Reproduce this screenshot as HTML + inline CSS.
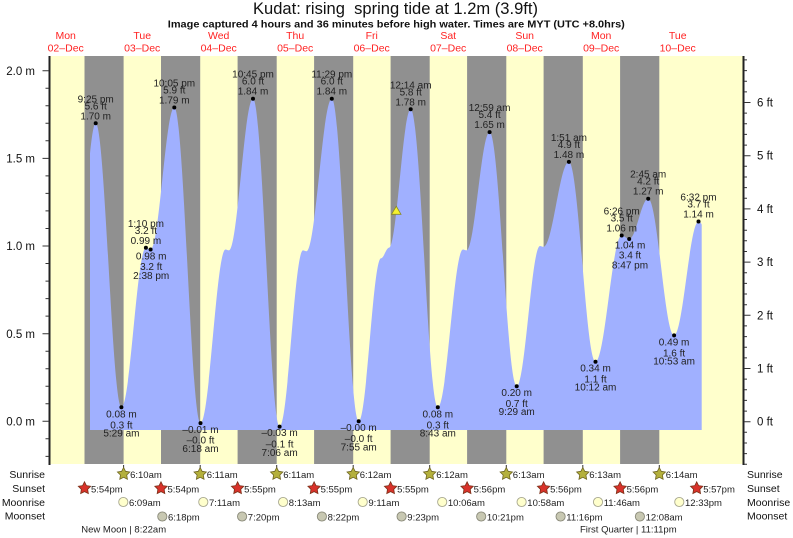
<!DOCTYPE html>
<html><head><meta charset="utf-8"><style>
html,body{margin:0;padding:0;background:#fff;}
svg{display:block;}
text{font-family:"Liberation Sans",Arial,sans-serif;}
.t{font-size:10px;fill:#222;text-anchor:middle;}
.d{font-size:10.5px;fill:#f22;text-anchor:middle;}
.ax{font-size:11.5px;fill:#111;}
.rl{font-size:10.5px;fill:#111;}
.ic{font-size:9.5px;fill:#222;}
</style></head><body>
<svg width="793" height="538" viewBox="0 0 793 538" xmlns="http://www.w3.org/2000/svg">
<defs><clipPath id="cp"><rect x="90" y="0" width="611.7" height="440"/></clipPath></defs>
<!-- Title -->
<text x="395.5" y="14" font-size="16.5" fill="#111" text-anchor="middle" textLength="285" lengthAdjust="spacingAndGlyphs" style="white-space:pre">Kudat: rising  spring tide at 1.2m (3.9ft)</text>
<text x="396.3" y="27.3" font-size="10" font-weight="bold" fill="#111" text-anchor="middle" textLength="457" lengthAdjust="spacingAndGlyphs">Image captured 4 hours and 36 minutes before high water. Times are MYT (UTC +8.0hrs)</text>
<!-- Day labels -->
<g class="d">
<text x="65.7" y="39">Mon</text><text x="65.7" y="51.5">02–Dec</text>
<text x="142.2" y="39">Tue</text><text x="142.2" y="51.5">03–Dec</text>
<text x="218.7" y="39">Wed</text><text x="218.7" y="51.5">04–Dec</text>
<text x="295.2" y="39">Thu</text><text x="295.2" y="51.5">05–Dec</text>
<text x="371.7" y="39">Fri</text><text x="371.7" y="51.5">06–Dec</text>
<text x="448.2" y="39">Sat</text><text x="448.2" y="51.5">07–Dec</text>
<text x="524.7" y="39">Sun</text><text x="524.7" y="51.5">08–Dec</text>
<text x="601.2" y="39">Mon</text><text x="601.2" y="51.5">09–Dec</text>
<text x="677.7" y="39">Tue</text><text x="677.7" y="51.5">10–Dec</text>
</g>
<!-- Background stripes -->
<rect x="49" y="56" width="694" height="408" fill="#ffffcc"/>
<g fill="#909090">
<rect x="84.5" y="56" width="39.1" height="408"/>
<rect x="161" y="56" width="39.2" height="408"/>
<rect x="237.6" y="56" width="39.1" height="408"/>
<rect x="314.1" y="56" width="39.1" height="408"/>
<rect x="390.6" y="56" width="39.1" height="408"/>
<rect x="467.1" y="56" width="39.2" height="408"/>
<rect x="543.6" y="56" width="39.2" height="408"/>
<rect x="620.1" y="56" width="39.2" height="408"/>
</g>
<!-- Tide fill -->
<path clip-path="url(#cp)" fill="#a0b0ff" d="M78,251.3
C84.44,251.3 89.26,123.3 95.7,123.3
C105.05,123.3 112.05,407.3 121.4,407.3
C130.32,407.3 136.98,247.8 145.9,247.8
C147.61,247.8 148.89,249.5 150.6,249.5
C159.23,249.5 165.67,107.5 174.3,107.5
C183.84,107.5 190.96,423.1 200.5,423.1
C209.6,423.1 216.4,249.5 225.5,249.5
C226.77,249.5 227.73,250.4 229,250.4
C237.74,250.4 244.26,98.7 253,98.7
C262.68,98.7 269.92,426.6 279.6,426.6
C288.12,426.6 294.48,250.4 303,250.4
C304.27,250.4 305.23,251.3 306.5,251.3
C315.71,251.3 322.59,98.7 331.8,98.7
C341.59,98.7 348.91,421.3 358.7,421.3
C366.82,421.3 372.88,258.3 381,258.3
C383.91,258.3 386.09,247.8 389,247.8
C396.9,247.8 402.8,109.3 410.7,109.3
C420.56,109.3 427.94,407.3 437.8,407.3
C446.97,407.3 453.83,249.5 463,249.5
C464.27,249.5 465.23,250.4 466.5,250.4
C474.91,250.4 481.19,132.1 489.6,132.1
C499.46,132.1 506.84,386.2 516.7,386.2
C525.18,386.2 531.52,246 540,246
C541.27,246 542.23,246.9 543.5,246.9
C552.75,246.9 559.65,161.9 568.9,161.9
C578.58,161.9 585.82,361.7 595.5,361.7
C605.04,361.7 612.16,235.5 621.7,235.5
C624.43,235.5 626.47,239 629.2,239
C636.12,239 641.28,198.7 648.2,198.7
C657.63,198.7 664.67,335.4 674.1,335.4
C682.98,335.4 689.62,221.5 698.5,221.5
C709.97,221.5 718.53,333.6 730,333.6
L730,430 L78,430 Z"/>
<!-- Current marker -->
<polygon points="396.3,206.3 391.5,214.3 401,214.3" fill="#f4f030" stroke="#8a8a20" stroke-width="0.8"/>
<!-- Dots -->
<g fill="#000">
<circle cx="95.7" cy="123.3" r="2"/><circle cx="174.3" cy="107.5" r="2"/><circle cx="253" cy="98.7" r="2"/>
<circle cx="331.8" cy="98.7" r="2"/><circle cx="410.7" cy="109.3" r="2"/><circle cx="489.6" cy="132.1" r="2"/>
<circle cx="568.9" cy="161.9" r="2"/><circle cx="648.2" cy="198.7" r="2"/><circle cx="698.5" cy="221.5" r="2"/>
<circle cx="145.9" cy="247.8" r="2"/><circle cx="621.7" cy="235.5" r="2"/>
<circle cx="121.4" cy="407.3" r="2"/><circle cx="200.5" cy="423.1" r="2"/><circle cx="279.6" cy="426.6" r="2"/>
<circle cx="358.7" cy="421.3" r="2"/><circle cx="437.8" cy="407.3" r="2"/><circle cx="516.7" cy="386.2" r="2"/>
<circle cx="595.5" cy="361.7" r="2"/><circle cx="674.1" cy="335.4" r="2"/><circle cx="150.6" cy="249.5" r="2"/>
<circle cx="629.2" cy="239" r="2"/>
</g>
<!-- High labels -->
<g class="t">
<text x="95.7" y="102.3">9:25 pm</text><text x="95.7" y="109.3">5.6 ft</text><text x="95.7" y="119.3">1.70 m</text>
<text x="174.3" y="86.5">10:05 pm</text><text x="174.3" y="93.5">5.9 ft</text><text x="174.3" y="103.5">1.79 m</text>
<text x="253" y="77.7">10:45 pm</text><text x="253" y="84.7">6.0 ft</text><text x="253" y="94.7">1.84 m</text>
<text x="331.8" y="77.7">11:29 pm</text><text x="331.8" y="84.7">6.0 ft</text><text x="331.8" y="94.7">1.84 m</text>
<text x="410.7" y="88.3">12:14 am</text><text x="410.7" y="95.3">5.8 ft</text><text x="410.7" y="105.3">1.78 m</text>
<text x="489.6" y="111.1">12:59 am</text><text x="489.6" y="118.1">5.4 ft</text><text x="489.6" y="128.1">1.65 m</text>
<text x="568.9" y="140.9">1:51 am</text><text x="568.9" y="147.9">4.9 ft</text><text x="568.9" y="157.9">1.48 m</text>
<text x="648.2" y="177.7">2:45 am</text><text x="648.2" y="184.7">4.2 ft</text><text x="648.2" y="194.7">1.27 m</text>
<text x="698.5" y="200.5">6:32 pm</text><text x="698.5" y="207.5">3.7 ft</text><text x="698.5" y="217.5">1.14 m</text>
<text x="145.9" y="226.8">1:10 pm</text><text x="145.9" y="233.8">3.2 ft</text><text x="145.9" y="243.8">0.99 m</text>
<text x="621.7" y="214.5">6:26 pm</text><text x="621.7" y="221.5">3.5 ft</text><text x="621.7" y="231.5">1.06 m</text>
<!-- Low labels -->
<text x="121.4" y="417.3">0.08 m</text><text x="121.4" y="428.3">0.3 ft</text><text x="121.4" y="436.3">5:29 am</text>
<text x="200.5" y="433.1">–0.01 m</text><text x="200.5" y="443.6">–0.0 ft</text><text x="200.5" y="452.1">6:18 am</text>
<text x="279.6" y="436.1">–0.03 m</text><text x="279.6" y="447.6">–0.1 ft</text><text x="279.6" y="456">7:06 am</text>
<text x="358.7" y="431">–0.00 m</text><text x="358.7" y="441.8">–0.0 ft</text><text x="358.7" y="450.3">7:55 am</text>
<text x="437.8" y="417.3">0.08 m</text><text x="437.8" y="428.3">0.3 ft</text><text x="437.8" y="436.3">8:43 am</text>
<text x="516.7" y="396.2">0.20 m</text><text x="516.7" y="407.2">0.7 ft</text><text x="516.7" y="415.2">9:29 am</text>
<text x="595.5" y="371.7">0.34 m</text><text x="595.5" y="382.7">1.1 ft</text><text x="595.5" y="390.7">10:12 am</text>
<text x="674.1" y="345.4">0.49 m</text><text x="674.1" y="356.4">1.6 ft</text><text x="674.1" y="364.4">10:53 am</text>
<text x="151.2" y="259.3">0.98 m</text><text x="151.2" y="270">3.2 ft</text><text x="151.2" y="279">2:38 pm</text>
<text x="630" y="248.5">1.04 m</text><text x="630" y="258.5">3.4 ft</text><text x="630" y="268.3">8:47 pm</text>
</g>
<!-- Axes -->
<line x1="49.5" y1="56" x2="49.5" y2="465" stroke="#222" stroke-width="2"/>
<line x1="743.5" y1="56" x2="743.5" y2="465" stroke="#222" stroke-width="2"/>
<path stroke="#333" stroke-width="1" fill="none" d="
M45.5,456.4H49 M45.5,438.8H49 M42.5,421.3H49 M45.5,403.8H49 M45.5,386.2H49 M45.5,368.7H49 M45.5,351.2H49
M42.5,333.7H49 M45.5,316.1H49 M45.5,298.6H49 M45.5,281.1H49 M45.5,263.5H49 M42.5,246H49 M45.5,228.5H49
M45.5,210.9H49 M45.5,193.4H49 M45.5,175.9H49 M42.5,158.4H49 M45.5,140.8H49 M45.5,123.3H49 M45.5,105.8H49
M45.5,88.2H49 M42.5,70.7H49
M744,464.3H747 M744,453.6H747 M744,443H747 M744,432.3H747 M744,421.7H750.5 M744,411.1H747 M744,400.4H747
M744,389.8H747 M744,379.1H747 M744,368.5H750.5 M744,357.9H747 M744,347.2H747 M744,336.6H747 M744,325.9H747
M744,315.3H750.5 M744,304.7H747 M744,294H747 M744,283.4H747 M744,272.7H747 M744,262.1H750.5 M744,251.5H747
M744,240.8H747 M744,230.2H747 M744,219.5H747 M744,208.9H750.5 M744,198.3H747 M744,187.6H747 M744,177H747
M744,166.3H747 M744,155.7H750.5 M744,145.1H747 M744,134.4H747 M744,123.8H747 M744,113.1H747 M744,102.5H750.5
M744,91.9H747 M744,81.2H747 M744,70.6H747 M744,59.9H747
M123.6,465V469 M200.2,465V469 M276.7,465V469 M353.2,465V469 M429.7,465V469 M506.3,465V469 M582.8,465V469 M659.3,465V469"/>
<g class="ax" text-anchor="end">
<text x="35" y="74.9">2.0 m</text><text x="35" y="162.6">1.5 m</text><text x="35" y="250.2">1.0 m</text>
<text x="35" y="337.9">0.5 m</text><text x="35" y="425.5">0.0 m</text>
</g>
<g class="ax">
<text x="757" y="106.5">6 ft</text><text x="757" y="159.7">5 ft</text><text x="757" y="212.9">4 ft</text>
<text x="757" y="266.1">3 ft</text><text x="757" y="319.3">2 ft</text><text x="757" y="372.5">1 ft</text><text x="757" y="425.7">0 ft</text>
</g>
<!-- Row labels -->
<g class="rl" text-anchor="end">
<text x="45" y="478">Sunrise</text><text x="45" y="492">Sunset</text><text x="45" y="506">Moonrise</text><text x="45" y="519.5">Moonset</text>
</g>
<g class="rl">
<text x="747" y="478">Sunrise</text><text x="747" y="492">Sunset</text><text x="747" y="506">Moonrise</text><text x="747" y="519.5">Moonset</text>
</g>
<!-- Sunrise stars -->
<g fill="#b4b03c" stroke="#6e6420" stroke-width="0.8">
<path transform="translate(123.6,474)" d="M0,-6.5 L1.94,-2.67 L6.18,-2.01 L3.14,1.02 L3.82,5.26 L0,3.3 L-3.82,5.26 L-3.14,1.02 L-6.18,-2.01 L-1.94,-2.67 Z"/>
<path transform="translate(200.2,474)" d="M0,-6.5 L1.94,-2.67 L6.18,-2.01 L3.14,1.02 L3.82,5.26 L0,3.3 L-3.82,5.26 L-3.14,1.02 L-6.18,-2.01 L-1.94,-2.67 Z"/>
<path transform="translate(276.7,474)" d="M0,-6.5 L1.94,-2.67 L6.18,-2.01 L3.14,1.02 L3.82,5.26 L0,3.3 L-3.82,5.26 L-3.14,1.02 L-6.18,-2.01 L-1.94,-2.67 Z"/>
<path transform="translate(353.2,474)" d="M0,-6.5 L1.94,-2.67 L6.18,-2.01 L3.14,1.02 L3.82,5.26 L0,3.3 L-3.82,5.26 L-3.14,1.02 L-6.18,-2.01 L-1.94,-2.67 Z"/>
<path transform="translate(429.7,474)" d="M0,-6.5 L1.94,-2.67 L6.18,-2.01 L3.14,1.02 L3.82,5.26 L0,3.3 L-3.82,5.26 L-3.14,1.02 L-6.18,-2.01 L-1.94,-2.67 Z"/>
<path transform="translate(506.3,474)" d="M0,-6.5 L1.94,-2.67 L6.18,-2.01 L3.14,1.02 L3.82,5.26 L0,3.3 L-3.82,5.26 L-3.14,1.02 L-6.18,-2.01 L-1.94,-2.67 Z"/>
<path transform="translate(582.8,474)" d="M0,-6.5 L1.94,-2.67 L6.18,-2.01 L3.14,1.02 L3.82,5.26 L0,3.3 L-3.82,5.26 L-3.14,1.02 L-6.18,-2.01 L-1.94,-2.67 Z"/>
<path transform="translate(659.3,474)" d="M0,-6.5 L1.94,-2.67 L6.18,-2.01 L3.14,1.02 L3.82,5.26 L0,3.3 L-3.82,5.26 L-3.14,1.02 L-6.18,-2.01 L-1.94,-2.67 Z"/>
</g>
<!-- Sunset stars -->
<g fill="#d8322a" stroke="#7a3018" stroke-width="0.8">
<path transform="translate(84.5,488.3)" d="M0,-6.5 L1.94,-2.67 L6.18,-2.01 L3.14,1.02 L3.82,5.26 L0,3.3 L-3.82,5.26 L-3.14,1.02 L-6.18,-2.01 L-1.94,-2.67 Z"/>
<path transform="translate(161,488.3)" d="M0,-6.5 L1.94,-2.67 L6.18,-2.01 L3.14,1.02 L3.82,5.26 L0,3.3 L-3.82,5.26 L-3.14,1.02 L-6.18,-2.01 L-1.94,-2.67 Z"/>
<path transform="translate(237.6,488.3)" d="M0,-6.5 L1.94,-2.67 L6.18,-2.01 L3.14,1.02 L3.82,5.26 L0,3.3 L-3.82,5.26 L-3.14,1.02 L-6.18,-2.01 L-1.94,-2.67 Z"/>
<path transform="translate(314.1,488.3)" d="M0,-6.5 L1.94,-2.67 L6.18,-2.01 L3.14,1.02 L3.82,5.26 L0,3.3 L-3.82,5.26 L-3.14,1.02 L-6.18,-2.01 L-1.94,-2.67 Z"/>
<path transform="translate(390.6,488.3)" d="M0,-6.5 L1.94,-2.67 L6.18,-2.01 L3.14,1.02 L3.82,5.26 L0,3.3 L-3.82,5.26 L-3.14,1.02 L-6.18,-2.01 L-1.94,-2.67 Z"/>
<path transform="translate(467.1,488.3)" d="M0,-6.5 L1.94,-2.67 L6.18,-2.01 L3.14,1.02 L3.82,5.26 L0,3.3 L-3.82,5.26 L-3.14,1.02 L-6.18,-2.01 L-1.94,-2.67 Z"/>
<path transform="translate(543.6,488.3)" d="M0,-6.5 L1.94,-2.67 L6.18,-2.01 L3.14,1.02 L3.82,5.26 L0,3.3 L-3.82,5.26 L-3.14,1.02 L-6.18,-2.01 L-1.94,-2.67 Z"/>
<path transform="translate(620.1,488.3)" d="M0,-6.5 L1.94,-2.67 L6.18,-2.01 L3.14,1.02 L3.82,5.26 L0,3.3 L-3.82,5.26 L-3.14,1.02 L-6.18,-2.01 L-1.94,-2.67 Z"/>
<path transform="translate(696.7,488.3)" d="M0,-6.5 L1.94,-2.67 L6.18,-2.01 L3.14,1.02 L3.82,5.26 L0,3.3 L-3.82,5.26 L-3.14,1.02 L-6.18,-2.01 L-1.94,-2.67 Z"/>
</g>
<!-- Moonrise -->
<g fill="#ffffcc" stroke="#a8a890" stroke-width="0.9">
<circle cx="123.3" cy="502" r="4.6"/><circle cx="203.3" cy="502" r="4.6"/><circle cx="283.1" cy="502" r="4.6"/>
<circle cx="362.7" cy="502" r="4.6"/><circle cx="442.2" cy="502" r="4.6"/><circle cx="521.6" cy="502" r="4.6"/>
<circle cx="598" cy="502" r="4.6"/><circle cx="679.3" cy="502" r="4.6"/>
</g>
<!-- Moonset -->
<g fill="#c8c8b2" stroke="#8a8a7a" stroke-width="0.9">
<circle cx="162.3" cy="516.5" r="4.6"/><circle cx="242.1" cy="516.5" r="4.6"/><circle cx="321.9" cy="516.5" r="4.6"/>
<circle cx="401.6" cy="516.5" r="4.6"/><circle cx="481.2" cy="516.5" r="4.6"/><circle cx="560.6" cy="516.5" r="4.6"/>
<circle cx="639.9" cy="516.5" r="4.6"/>
</g>
<g class="ic">
<text x="130.1" y="478">6:10am</text><text x="206.7" y="478">6:11am</text><text x="283.2" y="478">6:11am</text>
<text x="359.7" y="478">6:12am</text><text x="436.2" y="478">6:12am</text><text x="512.8" y="478">6:13am</text>
<text x="589.3" y="478">6:13am</text><text x="665.8" y="478">6:14am</text>
<text x="91" y="492.3">5:54pm</text><text x="167.5" y="492.3">5:54pm</text><text x="244.1" y="492.3">5:55pm</text>
<text x="320.6" y="492.3">5:55pm</text><text x="397.1" y="492.3">5:55pm</text><text x="473.6" y="492.3">5:56pm</text>
<text x="550.1" y="492.3">5:56pm</text><text x="626.6" y="492.3">5:56pm</text><text x="703.2" y="492.3">5:57pm</text>
<text x="129" y="506">6:09am</text><text x="209" y="506">7:11am</text><text x="288.8" y="506">8:13am</text>
<text x="368.4" y="506">9:11am</text><text x="447.9" y="506">10:06am</text><text x="527.3" y="506">10:58am</text>
<text x="603.7" y="506">11:46am</text><text x="685" y="506">12:33pm</text>
<text x="168" y="520.5">6:18pm</text><text x="247.8" y="520.5">7:20pm</text><text x="327.6" y="520.5">8:22pm</text>
<text x="407.3" y="520.5">9:23pm</text><text x="486.9" y="520.5">10:21pm</text><text x="566.3" y="520.5">11:16pm</text>
<text x="645.6" y="520.5">12:08am</text>
</g>
<g class="ic" text-anchor="middle">
<text x="123.7" y="532.3">New Moon | 8:22am</text>
<text x="628.3" y="532.3">First Quarter | 11:11pm</text>
</g>
</svg>
</body></html>
